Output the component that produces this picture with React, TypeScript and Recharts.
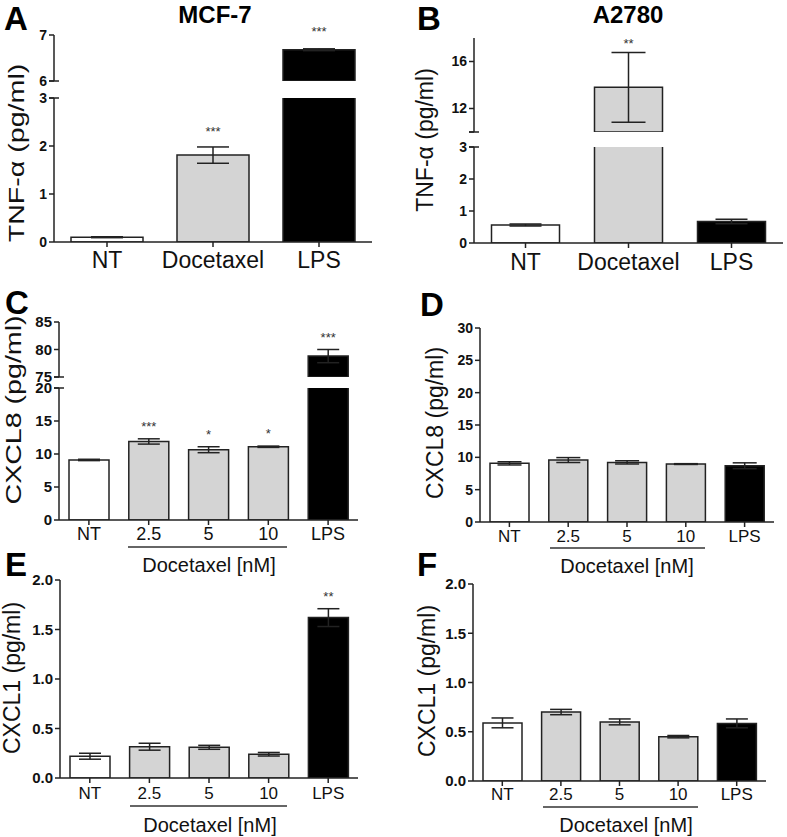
import React from 'react';
import { BarChart, Bar, XAxis, YAxis, ErrorBar, Cell, LabelList } from 'recharts';

const FONT = '"Liberation Sans", Arial, Helvetica, sans-serif';
const INK = '#222';
const GREY = '#d4d4d4';

// categories
const treatments = ['NT', 'Docetaxel', 'LPS'];
const doses = ['NT', '2.5', '5', '10', 'LPS'];

// A: MCF-7, TNF-alpha
const mcfTnfMean = [0.1, 1.81, 6.68];
const mcfTnfSem = [0.01, 0.17, 0.02];
const mcfTnfStars = ['', '***', '***'];

// B: A2780, TNF-alpha
const a2780TnfMean = [0.56, 13.8, 0.67];
const a2780TnfSem = [0.03, 2.97, 0.07];
const a2780TnfStars = ['', '**', ''];

// C: MCF-7, CXCL8
const mcfCxcl8Mean = [9.1, 11.9, 10.65, 11.1, 78.8];
const mcfCxcl8Sem = [0.1, 0.4, 0.45, 0.1, 1.2];
const mcfCxcl8Stars = ['', '***', '*', '*', '***'];

// D: A2780, CXCL8
const a2780Cxcl8Mean = [9.07, 9.58, 9.22, 8.96, 8.7];
const a2780Cxcl8Sem = [0.25, 0.38, 0.25, 0.06, 0.45];
const noStars = ['', '', '', '', ''];

// E: MCF-7, CXCL1
const mcfCxcl1Mean = [0.22, 0.316, 0.31, 0.24, 1.62];
const mcfCxcl1Sem = [0.03, 0.035, 0.02, 0.018, 0.09];
const mcfCxcl1Stars = ['', '', '', '', '**'];

// F: A2780, CXCL1
const a2780Cxcl1Mean = [0.59, 0.7, 0.6, 0.45, 0.585];
const a2780Cxcl1Sem = [0.05, 0.027, 0.03, 0.012, 0.045];

// axis ticks
const tnfTicksLow = [0, 1, 2, 3];
const mcfTnfTicksHigh = [6, 7];
const a2780TnfTicksHigh = [10, 12, 16];
const cxcl8TicksLow = [0, 5, 10, 15, 20];
const cxcl8TicksHigh = [75, 80, 85];
const cxcl8Ticks = [0, 5, 10, 15, 20, 25, 30];
const cxcl1Ticks = [0, 0.5, 1, 1.5, 2];

const fills3 = ['#ffffff', GREY, '#000000'];
const fills5 = ['#ffffff', GREY, GREY, GREY, '#000000'];

type Row = { name: string; v: number | null; err: number | null; stars: string };
type Box = { left: number; right: number; top: number; bottom: number };

// rows for one segment of a (possibly broken) axis
const segmentRows = (
  names: string[],
  means: number[],
  sems: number[],
  stars: string[],
  lo: number,
  hi: number
): Row[] =>
  names.map((name, i) => {
    const v = means[i];
    const inSeg = v > lo && v <= hi;
    return { name, v: v > lo ? v : null, err: inSeg ? sems[i] : null, stars: inSeg ? stars[i] : '' };
  });

const Y_W = 44;
const PAD_T = 14;
const PAD_R = 8;
const X_H = 40;
const PAD_B_UPPER = 10;

interface SegProps {
  rows: Row[];
  fills: string[];
  box: Box;
  domain: [number, number];
  ticks: number[];
  tickFmt?: (v: number) => string;
  showX: boolean;
  xFont?: number;
  xMargin?: number;
  yFont: number;
  gap: number;
  cap: number;
  starGap?: number;
}

const Segment: React.FC<SegProps> = (p) => {
  const w = Y_W + (p.box.right - p.box.left) + PAD_R;
  const h = PAD_T + (p.box.bottom - p.box.top) + (p.showX ? X_H : PAD_B_UPPER);
  const starGap = p.starGap ?? 8;
  const ppu = (p.box.bottom - p.box.top) / (p.domain[1] - p.domain[0]);
  const shown = p.rows.filter((r) => r.v != null);

  const starContent = (lp: any) => {
    if (!lp.value) return null;
    // label index may refer to all rows or only to drawn bars
    let row = p.rows[lp.index];
    if (!row || row.stars !== lp.value) row = shown[lp.index];
    if (!row || !row.stars) return null;
    const vb = lp.viewBox ?? lp;
    const top = Math.min(vb.y, vb.y + vb.height);
    const errTop = top - (row.err ?? 0) * ppu;
    return (
      <text x={vb.x + vb.width / 2} y={errTop - starGap} textAnchor="middle" fontSize={13} fill="#333">
        {row.stars}
      </text>
    );
  };

  return (
    <div style={{ position: 'absolute', left: p.box.left - Y_W, top: p.box.top - PAD_T }}>
      <BarChart
        width={w}
        height={h}
        data={p.rows}
        margin={{ top: PAD_T, right: PAD_R, left: 0, bottom: p.showX ? 0 : PAD_B_UPPER }}
        barCategoryGap={p.gap}
      >
        <XAxis
          dataKey="name"
          hide={!p.showX}
          height={X_H}
          interval={0}
          tickSize={5}
          tickMargin={p.xMargin ?? 3}
          tick={{ fontSize: p.xFont ?? 17, fill: '#111' }}
          axisLine={{ stroke: INK, strokeWidth: 1.5 }}
          tickLine={{ stroke: INK, strokeWidth: 1.5 }}
        />
        <YAxis
          type="number"
          width={Y_W}
          domain={p.domain}
          ticks={p.ticks}
          allowDataOverflow
          interval={0}
          tickSize={5}
          tickMargin={2}
          tickFormatter={p.tickFmt}
          tick={{ fontSize: p.yFont, fontWeight: 'bold', fill: '#111' }}
          axisLine={{ stroke: INK, strokeWidth: 1.5 }}
          tickLine={{ stroke: INK, strokeWidth: 1.5 }}
        />
        <Bar dataKey="v" isAnimationActive={false} stroke={INK} strokeWidth={1.5}>
          {p.rows.map((r, i) => (
            <Cell key={r.name} fill={p.fills[i]} />
          ))}
          <ErrorBar dataKey="err" width={p.cap} stroke={INK} strokeWidth={1.5} direction="y" />
          <LabelList dataKey="stars" content={starContent} />
        </Bar>
      </BarChart>
    </div>
  );
};

// panel geometry (plot boxes)
const aLow: Box = { left: 54, right: 372, top: 98, bottom: 242 };
const aHigh: Box = { left: 54, right: 372, top: 35, bottom: 81 };
const bLow: Box = { left: 474, right: 783, top: 147, bottom: 243 };
const bHigh: Box = { left: 474, right: 783, top: 38, bottom: 132 };
const cLow: Box = { left: 59, right: 358, top: 388, bottom: 520 };
const cHigh: Box = { left: 59, right: 358, top: 322, bottom: 377 };
const dBox: Box = { left: 480, right: 774, top: 328, bottom: 522 };
const eBox: Box = { left: 60, right: 358, top: 580, bottom: 778 };
const fBox: Box = { left: 473, right: 766, top: 584, bottom: 781 };

const oneDec = (v: number) => v.toFixed(1);
const hideTen = (v: number) => (v === 10 ? '' : String(v));

const BreakCaps: React.FC<{ x: number; y1: number; y2: number }> = ({ x, y1, y2 }) => (
  <g stroke={INK} strokeWidth={1.5}>
    <line x1={x - 5} x2={x + 5} y1={y1} y2={y1} />
    <line x1={x - 5} x2={x + 5} y1={y2} y2={y2} />
  </g>
);

const YLabel: React.FC<{ x: number; y: number; size: number; stretch?: number; text: string }> = ({
  x,
  y,
  size,
  stretch = 1,
  text
}) => (
  <text
    transform={`translate(${x},${y}) rotate(-90) scale(${stretch},1)`}
    textAnchor="middle"
    fontSize={size}
    fill="#111"
  >
    {text}
  </text>
);

const GroupLabel: React.FC<{ x1: number; x2: number; y: number; tx: number; ty: number }> = ({
  x1,
  x2,
  y,
  tx,
  ty
}) => (
  <g>
    <line x1={x1} x2={x2} y1={y} y2={y} stroke="#333" strokeWidth={1.5} />
    <text x={tx} y={ty} textAnchor="middle" fontSize={20} fill="#111">
      Docetaxel [nM]
    </text>
  </g>
);

const App: React.FC = () => {
  return (
    <div
      style={{
        position: 'absolute',
        left: 0,
        top: 0,
        width: 787,
        height: 837,
        background: '#fff',
        fontFamily: FONT,
        overflow: 'hidden'
      }}
    >
      {/* A */}
      <Segment rows={segmentRows(treatments, mcfTnfMean, mcfTnfSem, mcfTnfStars, 0, 3)} fills={fills3}
        box={aLow} domain={[0, 3]} ticks={tnfTicksLow} showX xFont={23} xMargin={5} yFont={14} gap={17} cap={16} starGap={11} />
      <Segment rows={segmentRows(treatments, mcfTnfMean, mcfTnfSem, mcfTnfStars, 6, 7)} fills={fills3}
        box={aHigh} domain={[6, 7]} ticks={mcfTnfTicksHigh} showX={false} yFont={14} gap={17} cap={16} starGap={13} />

      {/* B */}
      <Segment rows={segmentRows(treatments, a2780TnfMean, a2780TnfSem, a2780TnfStars, 0, 3)} fills={fills3}
        box={bLow} domain={[0, 3]} ticks={tnfTicksLow} showX xFont={23} xMargin={6} yFont={14} gap={17.5} cap={16} />
      <Segment rows={segmentRows(treatments, a2780TnfMean, a2780TnfSem, a2780TnfStars, 10, 18)} fills={fills3}
        box={bHigh} domain={[10, 18]} ticks={a2780TnfTicksHigh} tickFmt={hideTen} showX={false} yFont={14} gap={17.5} cap={17} starGap={4} />

      {/* C */}
      <Segment rows={segmentRows(doses, mcfCxcl8Mean, mcfCxcl8Sem, mcfCxcl8Stars, 0, 20)} fills={fills5}
        box={cLow} domain={[0, 20]} ticks={cxcl8TicksLow} showX xFont={18} xMargin={2} yFont={15} gap={10} cap={11} />
      <Segment rows={segmentRows(doses, mcfCxcl8Mean, mcfCxcl8Sem, mcfCxcl8Stars, 75, 85)} fills={fills5}
        box={cHigh} domain={[75, 85]} ticks={cxcl8TicksHigh} showX={false} yFont={15} gap={10} cap={11} />

      {/* D */}
      <Segment rows={segmentRows(doses, a2780Cxcl8Mean, a2780Cxcl8Sem, noStars, 0, 30)} fills={fills5}
        box={dBox} domain={[0, 30]} ticks={cxcl8Ticks} showX xFont={17} xMargin={3} yFont={14} gap={10} cap={12} />

      {/* E */}
      <Segment rows={segmentRows(doses, mcfCxcl1Mean, mcfCxcl1Sem, mcfCxcl1Stars, 0, 2)} fills={fills5}
        box={eBox} domain={[0, 2]} ticks={cxcl1Ticks} tickFmt={oneDec} showX xFont={17} xMargin={4} yFont={15} gap={10} cap={11} />

      {/* F */}
      <Segment rows={segmentRows(doses, a2780Cxcl1Mean, a2780Cxcl1Sem, noStars, 0, 2)} fills={fills5}
        box={fBox} domain={[0, 2]} ticks={cxcl1Ticks} tickFmt={oneDec} showX xFont={17} xMargin={2} yFont={15} gap={10} cap={11} />

      <svg
        width={787}
        height={837}
        style={{ position: 'absolute', left: 0, top: 0, pointerEvents: 'none', fontFamily: FONT }}
      >
        <g fontSize={33} fontWeight="bold" fill="#000">
          <text x={4} y={30}>A</text>
          <text x={417} y={30}>B</text>
          <text x={5} y={314}>C</text>
          <text x={420} y={316}>D</text>
          <text x={5} y={576}>E</text>
          <text x={417} y={576}>F</text>
        </g>
        <g fontSize={24} fontWeight="bold" fill="#000" textAnchor="middle">
          <text x={215} y={23}>MCF-7</text>
          <text x={628} y={23}>A2780</text>
        </g>

        <YLabel x={24} y={153} size={22} stretch={1.3} text="TNF-α (pg/ml)" />
        <YLabel x={433} y={140} size={23} text="TNF-α (pg/ml)" />
        <YLabel x={21} y={410} size={22} stretch={1.3} text="CXCL8 (pg/ml)" />
        <YLabel x={443} y={423} size={23} text="CXCL8 (pg/ml)" />
        <YLabel x={20} y={678} size={23} text="CXCL1 (pg/ml)" />
        <YLabel x={435} y={681} size={23} text="CXCL1 (pg/ml)" />

        <BreakCaps x={aLow.left} y1={aHigh.bottom} y2={aLow.top} />
        <BreakCaps x={bLow.left} y1={bHigh.bottom} y2={bLow.top} />
        <BreakCaps x={cLow.left} y1={cHigh.bottom} y2={cLow.top} />

        <GroupLabel x1={128} x2={287} y={547} tx={209} ty={572} />
        <GroupLabel x1={550} x2={705} y={548} tx={627} ty={573} />
        <GroupLabel x1={130} x2={287} y={806} tx={210} ty={832} />
        <GroupLabel x1={543} x2={698} y={807} tx={626} ty={832} />
      </svg>
    </div>
  );
};

export default App;
